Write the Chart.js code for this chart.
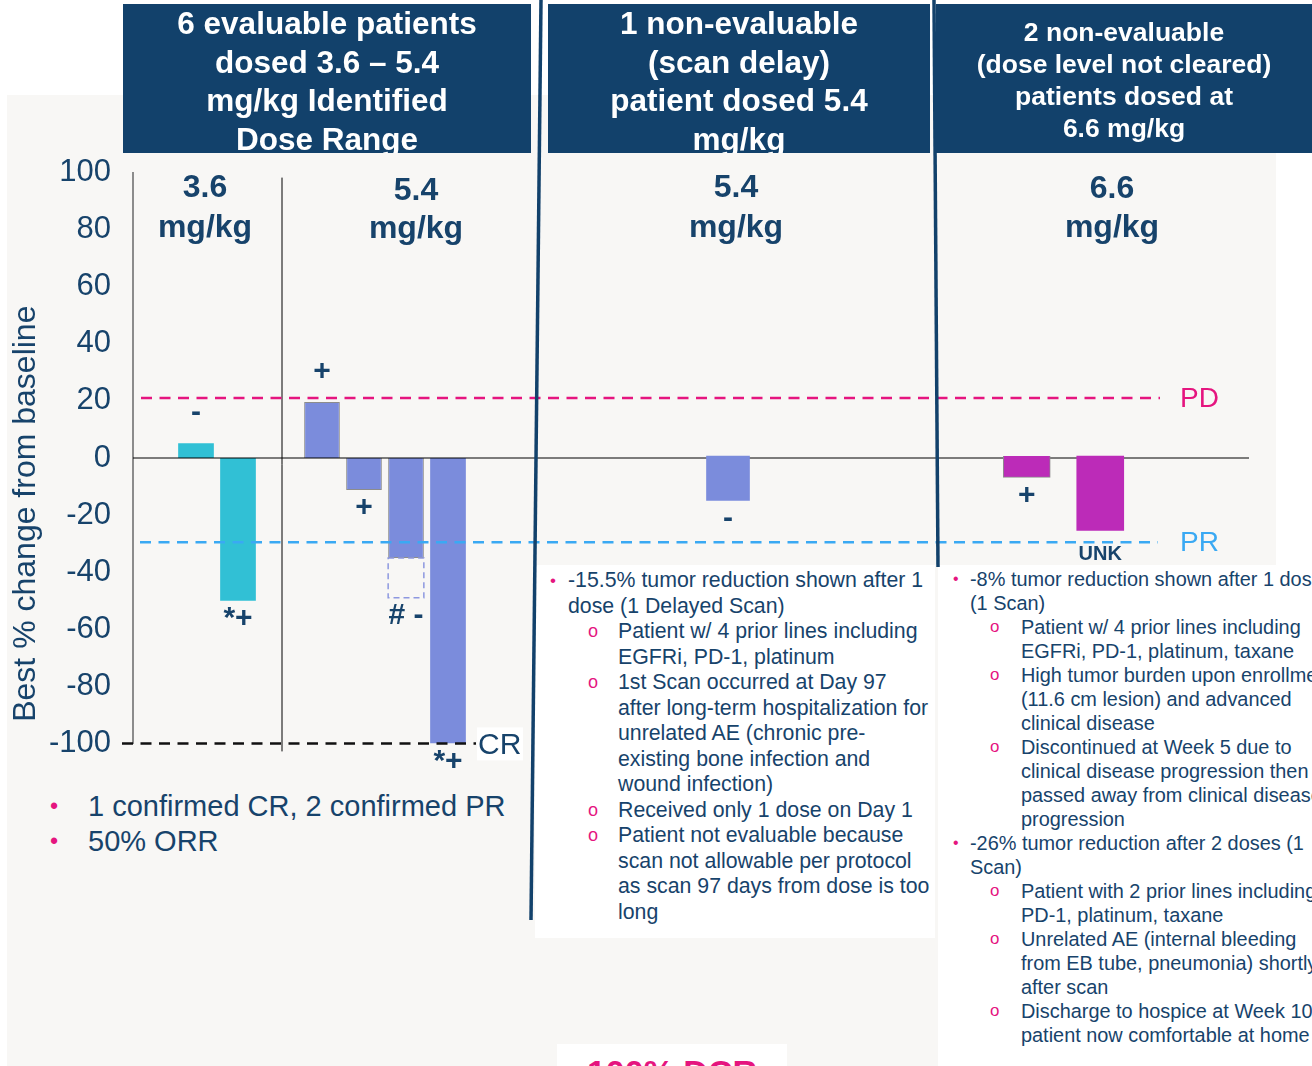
<!DOCTYPE html>
<html>
<head>
<meta charset="utf-8">
<script src="https://cdn.jsdelivr.net/npm/chart.js@4.4.0/dist/chart.umd.min.js"></script>
<style>
body{margin:0;width:1312px;height:1066px;overflow:hidden;position:relative;background:#fff;font-family:"Liberation Sans",Arial,sans-serif;color:#17436b;}
#bg{position:absolute;left:7px;top:95px;width:1269px;height:971px;background:#f8f7f5;}
.wrap{position:absolute;left:0;top:150px;width:1312px;height:612px;}
#evalWrap{top:132px;height:652px;}
.hdr{position:absolute;top:4px;height:149px;background:#12416b;color:#fff;font-weight:bold;text-align:center;white-space:nowrap;overflow:hidden;}
.grp{position:absolute;width:200px;text-align:center;font-weight:bold;font-size:32px;line-height:40px;}
.box{position:absolute;background:#fff;white-space:nowrap;overflow:hidden;}
.ln{position:relative;}
.b1::before{content:"\2022";position:absolute;color:#e5157f;font-size:0.8em;}
.o2::before{content:"o";position:absolute;color:#e5157f;font-size:0.85em;}
#mid{left:535px;top:565px;width:400px;height:373px;padding-top:3px;box-sizing:border-box;font-size:21.3px;line-height:25.5px;}
#mid .l1{padding-left:33px;} #mid .l2{padding-left:83px;}
#mid .b1::before{left:15px;} #mid .o2::before{left:53px;}
#right{left:938px;top:565px;width:374px;height:501px;padding-top:2px;box-sizing:border-box;font-size:19.9px;line-height:24px;}
#right .l1{padding-left:32px;} #right .l2{padding-left:83px;}
#right .b1::before{left:15px;} #right .o2::before{left:52px;}
#summary{position:absolute;left:0;top:789px;font-size:29px;line-height:35px;}
#summary .l1{padding-left:88px;} #summary .b1::before{left:50px;}
#dcr{position:absolute;left:557px;top:1044px;width:230px;height:30px;background:#fff;color:#e5157f;font-weight:bold;font-size:34px;line-height:40px;text-align:center;padding-top:8px;}
svg{position:absolute;left:0;top:0;}
</style>
</head>
<body>
<div id="bg"></div>

<div class="wrap" id="evalWrap"><canvas id="evalChart"></canvas></div>
<div class="wrap"><canvas id="delayChart"></canvas></div>
<div class="wrap"><canvas id="highChart"></canvas></div>

<div class="grp" style="left:105px;top:166px;">3.6<br>mg/kg</div>
<div class="grp" style="left:316px;top:170px;line-height:38px;">5.4<br>mg/kg</div>
<div class="grp" style="left:636px;top:166px;">5.4<br>mg/kg</div>
<div class="grp" style="left:1012px;top:168px;line-height:39px;">6.6<br>mg/kg</div>

<div id="summary">
  <div class="ln l1 b1">1 confirmed CR, 2 confirmed PR</div>
  <div class="ln l1 b1">50% ORR</div>
</div>

<div class="box" id="mid">
  <div class="ln l1 b1">-15.5% tumor reduction shown after 1</div>
  <div class="ln l1">dose (1 Delayed Scan)</div>
  <div class="ln l2 o2">Patient w/ 4 prior lines including</div>
  <div class="ln l2">EGFRi, PD-1, platinum</div>
  <div class="ln l2 o2">1st Scan occurred at Day 97</div>
  <div class="ln l2">after long-term hospitalization for</div>
  <div class="ln l2">unrelated AE (chronic pre-</div>
  <div class="ln l2">existing bone infection and</div>
  <div class="ln l2">wound infection)</div>
  <div class="ln l2 o2">Received only 1 dose on Day 1</div>
  <div class="ln l2 o2">Patient not evaluable because</div>
  <div class="ln l2">scan not allowable per protocol</div>
  <div class="ln l2">as scan 97 days from dose is too</div>
  <div class="ln l2">long</div>
</div>

<div class="box" id="right">
  <div class="ln l1 b1">-8% tumor reduction shown after 1 dose</div>
  <div class="ln l1">(1 Scan)</div>
  <div class="ln l2 o2">Patient w/ 4 prior lines including</div>
  <div class="ln l2">EGFRi, PD-1, platinum, taxane</div>
  <div class="ln l2 o2">High tumor burden upon enrollment</div>
  <div class="ln l2">(11.6 cm lesion) and advanced</div>
  <div class="ln l2">clinical disease</div>
  <div class="ln l2 o2">Discontinued at Week 5 due to</div>
  <div class="ln l2">clinical disease progression then</div>
  <div class="ln l2">passed away from clinical disease</div>
  <div class="ln l2">progression</div>
  <div class="ln l1 b1">-26% tumor reduction after 2 doses (1</div>
  <div class="ln l1">Scan)</div>
  <div class="ln l2 o2">Patient with 2 prior lines including</div>
  <div class="ln l2">PD-1, platinum, taxane</div>
  <div class="ln l2 o2">Unrelated AE (internal bleeding</div>
  <div class="ln l2">from EB tube, pneumonia) shortly</div>
  <div class="ln l2">after scan</div>
  <div class="ln l2 o2">Discharge to hospice at Week 10,</div>
  <div class="ln l2">patient now comfortable at home</div>
</div>

<div id="dcr">100% DCR</div>

<svg width="1312" height="1066">
  <line x1="541" y1="0" x2="531" y2="920" stroke="#12416b" stroke-width="3.5"/>
  <line x1="934" y1="0" x2="938" y2="567" stroke="#12416b" stroke-width="3.5"/>
</svg>

<div class="hdr" style="left:123px;width:408px;font-size:31.5px;line-height:38.5px;">6 evaluable patients<br>dosed 3.6 – 5.4<br>mg/kg Identified<br>Dose Range</div>
<div class="hdr" style="left:548px;width:382px;font-size:31.5px;line-height:38.5px;">1 non-evaluable<br>(scan delay)<br>patient dosed 5.4<br>mg/kg</div>
<div class="hdr" style="left:936px;width:376px;font-size:26.5px;line-height:32px;padding-top:12px;box-sizing:border-box;">2 non-evaluable<br>(dose level not cleared)<br>patients dosed at<br>6.6 mg/kg</div>

<script>
// evaluable patients, 3.6 and 5.4 mg/kg ('' = spacer slot)
var evalPatients = ['', 'P1', 'P2', '', 'P3', 'P4', 'P5', 'P6', ''];
var evalChange = [null, 5.2, -50, null, 19.6, -11.2, -35, -100, null];
var evalDose = ['', '3.6', '3.6', '', '5.4', '5.4', '5.4', '5.4', ''];
var evalMarks = ['', '-', '*+', '', '+', '+', '# -', '*+', ''];
var evalExtension = [null, null, null, null, null, null, -49, null, null];

// non-evaluable, scan delay, 5.4 mg/kg
var delayPatients = ['', '', '', '', 'P7', '', '', '', ''];
var delayChange = [null, null, null, null, -15.5, null, null, null, null];
var delayMarks = ['', '', '', '', '-', '', '', '', ''];

// non-evaluable, 6.6 mg/kg
var highPatients = ['P8', 'P9', ''];
var highChange = [-7.5, -26, null];
var highMarks = ['+', 'UNK', ''];

var yTicks = [-100, -80, -60, -40, -20, 0, 20, 40, 60, 80, 100];
var pdLine = 21;
var prLine = -29.5;
var crLine = -100;

var doseColors = { '3.6': '#31c0d5', '5.4': '#7b8cdc' };
var navy = '#17436b';

Chart.defaults.font.family = '"Liberation Sans", Arial, sans-serif';
Chart.defaults.animation = false;

// labels under / above each bar, plus the dashed box for the lost scan
var markPlugin = {
  id: 'marks',
  afterDatasetsDraw: function (chart, args, opts) {
    var ctx = chart.ctx;
    var meta = chart.getDatasetMeta(0);
    var data = chart.data.datasets[0].data;
    var y = chart.scales.y;
    ctx.save();
    opts.marks.forEach(function (txt, i) {
      var bar = meta.data[i];
      if (!bar || data[i] === null) return;
      var end = bar.y;
      if (opts.extension && opts.extension[i] !== null) {
        var ext = y.getPixelForValue(opts.extension[i]);
        ctx.setLineDash([6, 4]);
        ctx.strokeStyle = '#8d98e0';
        ctx.lineWidth = 1.5;
        ctx.strokeRect(bar.x - bar.width / 2, end, bar.width, ext - end);
        ctx.setLineDash([]);
        end = ext;
      }
      if (!txt) return;
      var word = /[A-Z]/.test(txt);
      ctx.font = 'bold ' + (word ? 20 : 30) + 'px "Liberation Sans"';
      ctx.fillStyle = navy;
      ctx.textAlign = 'center';
      ctx.textBaseline = 'middle';
      var ty = data[i] >= 0 ? end - 30 : end + (word ? 24 : 18);
      ctx.fillText(txt, bar.x, ty);
    });
    ctx.restore();
  }
};

// threshold lines, zero line, group divider, axis title
var refPlugin = {
  id: 'refs',
  afterDatasetsDraw: function (chart) {
    var ctx = chart.ctx;
    var y = chart.scales.y;
    var x = chart.scales.x;
    var area = chart.chartArea;
    ctx.save();

    // divider between 3.6 and 5.4
    var dx = x.getPixelForValue(3) + 2;
    ctx.strokeStyle = '#000';
    ctx.lineWidth = 1;
    ctx.beginPath();
    ctx.moveTo(dx, area.top + 5);
    ctx.lineTo(dx, area.bottom + 8);
    ctx.stroke();

    // zero line
    var y0 = y.getPixelForValue(0);
    ctx.beginPath();
    ctx.moveTo(area.left, y0);
    ctx.lineTo(1249, y0);
    ctx.stroke();

    function dashed(v, x1, x2, color) {
      var py = y.getPixelForValue(v);
      ctx.strokeStyle = color;
      ctx.lineWidth = 2.5;
      ctx.setLineDash([11, 7.5]);
      ctx.beginPath();
      ctx.moveTo(x1, py);
      ctx.lineTo(x2, py);
      ctx.stroke();
      ctx.setLineDash([]);
      return py;
    }
    ctx.font = '28px "Liberation Sans"';
    ctx.textAlign = 'left';
    ctx.textBaseline = 'middle';
    var pdY = dashed(pdLine, 141, 1160, '#e5157f');
    ctx.fillStyle = '#e5157f';
    ctx.fillText('PD', 1180, pdY + 1);
    var prY = dashed(prLine, 140, 1158, '#3aa9f3');
    ctx.fillStyle = '#3aa9f3';
    ctx.fillText('PR', 1180, prY + 1);
    var crY = dashed(crLine, 122, 476, '#111');
    ctx.fillStyle = '#fff';
    ctx.fillRect(477, crY - 16, 46, 33);
    ctx.fillStyle = navy;
    ctx.font = '30px "Liberation Sans"';
    ctx.fillText('CR', 478, crY + 2);

    // y axis title
    ctx.translate(26, y.getPixelForValue(-19.5));
    ctx.rotate(-Math.PI / 2);
    ctx.textAlign = 'center';
    ctx.font = '32px "Liberation Sans"';
    ctx.fillText('Best % change from baseline', 0, 0);
    ctx.restore();
  }
};

function hiddenY() {
  return { display: false, min: -100, max: 100 };
}

new Chart(document.getElementById('evalChart'), {
  type: 'bar',
  data: {
    labels: evalPatients,
    datasets: [{
      data: evalChange,
      backgroundColor: evalDose.map(function (d) { return doseColors[d] || 'transparent'; }),
      borderColor: '#8c8c8c',
      borderWidth: [0, 0, 0, 0, 1, 1, 1, 0, 0],
      barPercentage: 0.85,
      categoryPercentage: 1
    }]
  },
  options: {
    responsive: true,
    maintainAspectRatio: false,
    layout: { padding: { top: 20, bottom: 20, left: 0, right: 801 } },
    plugins: {
      legend: { display: false },
      tooltip: { enabled: false },
      marks: { marks: evalMarks, extension: evalExtension }
    },
    scales: {
      x: { display: false },
      y: {
        min: -100, max: 100,
        afterBuildTicks: function (scale) { scale.ticks = yTicks.map(function (v) { return { value: v }; }); },
        afterFit: function (scale) { scale.width = 133; },
        ticks: { color: navy, font: { size: 31 }, padding: 22 },
        grid: { display: false, drawTicks: false },
        border: { display: true, color: '#8c8c8c', width: 2 }
      }
    }
  },
  plugins: [markPlugin, refPlugin]
});

new Chart(document.getElementById('delayChart'), {
  type: 'bar',
  data: {
    labels: delayPatients,
    datasets: [{ data: delayChange, backgroundColor: doseColors['5.4'], barThickness: 43 }]
  },
  options: {
    responsive: true,
    maintainAspectRatio: false,
    layout: { padding: { top: 20, bottom: 20, left: 539, right: 395 } },
    plugins: { legend: { display: false }, tooltip: { enabled: false }, marks: { marks: delayMarks } },
    scales: { x: { display: false }, y: hiddenY() }
  },
  plugins: [markPlugin]
});

new Chart(document.getElementById('highChart'), {
  type: 'bar',
  data: {
    labels: highPatients,
    datasets: [{ data: highChange, backgroundColor: '#bc2bb8', borderColor: '#8c8c8c', borderWidth: [1, 0, 0], barThickness: 47 }]
  },
  options: {
    responsive: true,
    maintainAspectRatio: false,
    layout: { padding: { top: 20, bottom: 20, left: 990, right: 101.5 } },
    plugins: { legend: { display: false }, tooltip: { enabled: false }, marks: { marks: highMarks } },
    scales: { x: { display: false }, y: hiddenY() }
  },
  plugins: [markPlugin]
});
</script>
</body>
</html>
